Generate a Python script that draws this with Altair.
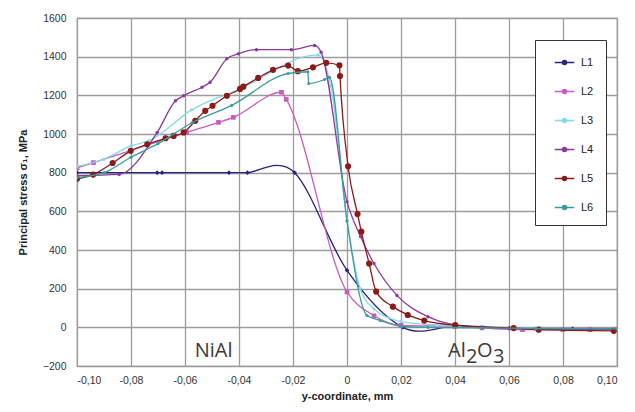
import altair as alt
import pandas as pd

# ---- data ----
L1_x = [-0.10, -0.0703, -0.0685, -0.0437, -0.0369, -0.0194, 0.0, 0.0207, 0.04, 0.06, 0.0835, 0.10]
L1_y = [800, 800, 800, 800, 800, 800, 295, 0, 5, -5, -8, -10]

L2_x = [-0.10, -0.0939, -0.0594, -0.0476, -0.0421, -0.0243, -0.0225, 0.0, 0.01, 0.02, 0.04, 0.05, 0.065, 0.08, 0.09, 0.10]
L2_y = [825, 852, 1008, 1060, 1086, 1216, 1179, 183, 60, 10, 5, -3, -12, -12, -12, -12]

L3_x = [-0.10, -0.09, -0.08, -0.0734, -0.0575, -0.04, -0.0108, -0.006, 0.0, 0.0049, 0.01, 0.02, 0.033, 0.05, 0.07, 0.10]
L3_y = [832, 870, 939, 965, 1125, 1231, 1409, 1250, 556, 200, 95, 30, 12, 0, -5, -8]

L4_x = [-0.10, -0.0844, -0.0703, -0.0635, -0.0605, -0.0537, -0.0507, -0.0445, -0.0402, -0.0335, -0.0206,
        -0.012, -0.0096, 0.0, 0.005, 0.01, 0.0185, 0.03, 0.04, 0.05, 0.06, 0.07, 0.08, 0.09, 0.10]
L4_y = [785, 791, 1008, 1172, 1198, 1242, 1268, 1389, 1415, 1436, 1436,
        1458, 1423, 650, 470, 330, 165, 55, 12, 0, -5, -8, -10, -10, -10]

L5_x = [-0.10, -0.094, -0.0868, -0.0801, -0.074, -0.0672, -0.0642, -0.0605, -0.0562, -0.0525, -0.0498,
        -0.0445, -0.0396, -0.0384, -0.0329, -0.0274, -0.0218, -0.0182, -0.0126, -0.0077, -0.0028, -0.0026,
        0.0004, 0.0039, 0.0053, 0.0082, 0.0108, 0.017, 0.0225, 0.0286, 0.0401, 0.0617, 0.071, 0.0988]
L5_y = [768, 790, 850, 913, 947, 978, 990, 1008, 1068, 1120, 1146,
        1198, 1233, 1245, 1290, 1332, 1354, 1325, 1345, 1368, 1355, 1300,
        833, 586, 495, 330, 185, 107, 64, 35, 11, -4, -12, -18]

L6_x = [-0.10, -0.09, -0.08, -0.07, -0.0574, -0.0427, -0.0218, -0.0145, -0.0142, -0.0083, -0.0065,
        0.0, 0.0074, 0.0123, 0.02, 0.03, 0.05, 0.07, 0.10]
L6_y = [775, 800, 880, 950, 1058, 1148, 1313, 1322, 1261, 1282, 1293,
        550, 61, 35, 5, 0, -3, -6, -8]

series_names = ["L1", "L2", "L3", "L4", "L5", "L6"]
series_colors = ["#26267a", "#c95cc0", "#86d9ea", "#8c3a9c", "#8b1a1a", "#3c9c9c"]
interp = {"L1": "cardinal", "L2": "monotone", "L3": "monotone",
          "L4": "monotone", "L5": "monotone", "L6": "monotone"}
marker_shape = {"L1": "diamond", "L2": "square", "L3": "circle",
                "L4": "circle", "L5": "circle", "L6": "circle"}
marker_size = {"L1": 22, "L2": 22, "L3": 10, "L4": 12, "L5": 38, "L6": 10}

x_ticks = [-0.10, -0.08, -0.06, -0.04, -0.02, 0.0, 0.02, 0.04, 0.06, 0.08, 0.10]
y_ticks = [-200, 0, 200, 400, 600, 800, 1000, 1200, 1400, 1600]

xs = [L1_x, L2_x, L3_x, L4_x, L5_x, L6_x]
ys = [L1_y, L2_y, L3_y, L4_y, L5_y, L6_y]

frames = {}
for name, xv, yv in zip(series_names, xs, ys):
    frames[name] = pd.DataFrame({"x": xv, "y": yv, "series": name})

color_scale = alt.Scale(domain=series_names, range=series_colors)
x_scale = alt.Scale(domain=[-0.10, 0.10], nice=False)
y_scale = alt.Scale(domain=[-200, 1600], nice=False)

x_axis = alt.Axis(
    values=x_ticks,
    labelExpr="datum.value == 0 ? '0' : replace(replace(format(datum.value, '.2f'), '.', ','), '\u2212', '-')",
    title="y-coordinate, mm",
    grid=True,
)
y_axis = alt.Axis(values=y_ticks, format="d", title="Principal stress \u03c3\u2081, MPa", grid=True)

X = alt.X("x:Q", scale=x_scale, axis=x_axis)
Y = alt.Y("y:Q", scale=y_scale, axis=y_axis)

legend = alt.Legend(
    title=None,
    orient="none",
    legendX=458,
    legendY=22,
    padding=12,
    symbolOffset=7,
    rowPadding=13,
    labelOffset=6,
    labelFontSize=11,
    labelFont="Liberation Sans",
    labelColor="#222",
    strokeColor="#333",
    fillColor="white",
    symbolType="M-1,0L1,0M-0.22,0A0.22,0.22,0,1,1,0.22,0A0.22,0.22,0,1,1,-0.22,0Z",
    symbolSize=380,
    symbolStrokeWidth=1.3,
)

layers = []
for i, name in enumerate(series_names):
    df = frames[name]
    line = alt.Chart(df).mark_line(strokeWidth=1.3, interpolate=interp[name], clip=True).encode(
        x=X, y=Y,
        color=alt.Color("series:N", scale=color_scale, legend=legend),
    )
    pts = alt.Chart(df).mark_point(filled=True, shape=marker_shape[name], size=marker_size[name],
                                   opacity=1, clip=True).encode(
        x=X, y=Y,
        color=alt.Color("series:N", scale=color_scale, legend=legend),
    )
    layers += [line, pts]

# annotations
ann_font = "Open Sans"
ann_color = "#3a3a3a"
nial = alt.Chart(pd.DataFrame({"x": [-0.0494], "y": [-121], "t": ["NiAl"]})).mark_text(
    font=ann_font, fontSize=20, color=ann_color, align="center", baseline="middle"
).encode(x=X, y=Y, text="t:N")

al_parts = [("Al", -28, 0, 20), ("2", -10, 6, 20), ("O", 1, 0, 20), ("3", 17, 6, 20)]
al_layers = []
for txt, dx, dy, fs in al_parts:
    al_layers.append(
        alt.Chart(pd.DataFrame({"x": [0.0478], "y": [-121], "t": [txt]})).mark_text(
            font=ann_font, fontSize=fs, color=ann_color, align="left", baseline="middle", dx=dx, dy=dy
        ).encode(x=X, y=Y, text="t:N")
    )

chart = alt.layer(*layers, nial, *al_layers).properties(
    width=540,
    height=348,
    autosize=alt.AutoSizeParams(type="none"),
    padding={"left": 69, "top": 10, "right": 10, "bottom": 38},
    background="white",
).configure_view(
    stroke="#8c8c8c", strokeWidth=1.2
).configure_axis(
    gridColor="#9c9c9c",
    gridWidth=1.3,
    domain=False,
    ticks=False,
    labelFont="Liberation Sans",
    labelFontSize=10.5,
    labelColor="#333",
    titleFont="Liberation Sans",
    titleFontSize=11,
    titleFontWeight="bold",
    titleColor="#222",
).configure_axisX(
    labelPadding=9, titlePadding=5
).configure_axisY(
    labelPadding=11, titlePadding=14
)

chart.save("out.html", embed_options={"renderer": "svg", "actions": False})
